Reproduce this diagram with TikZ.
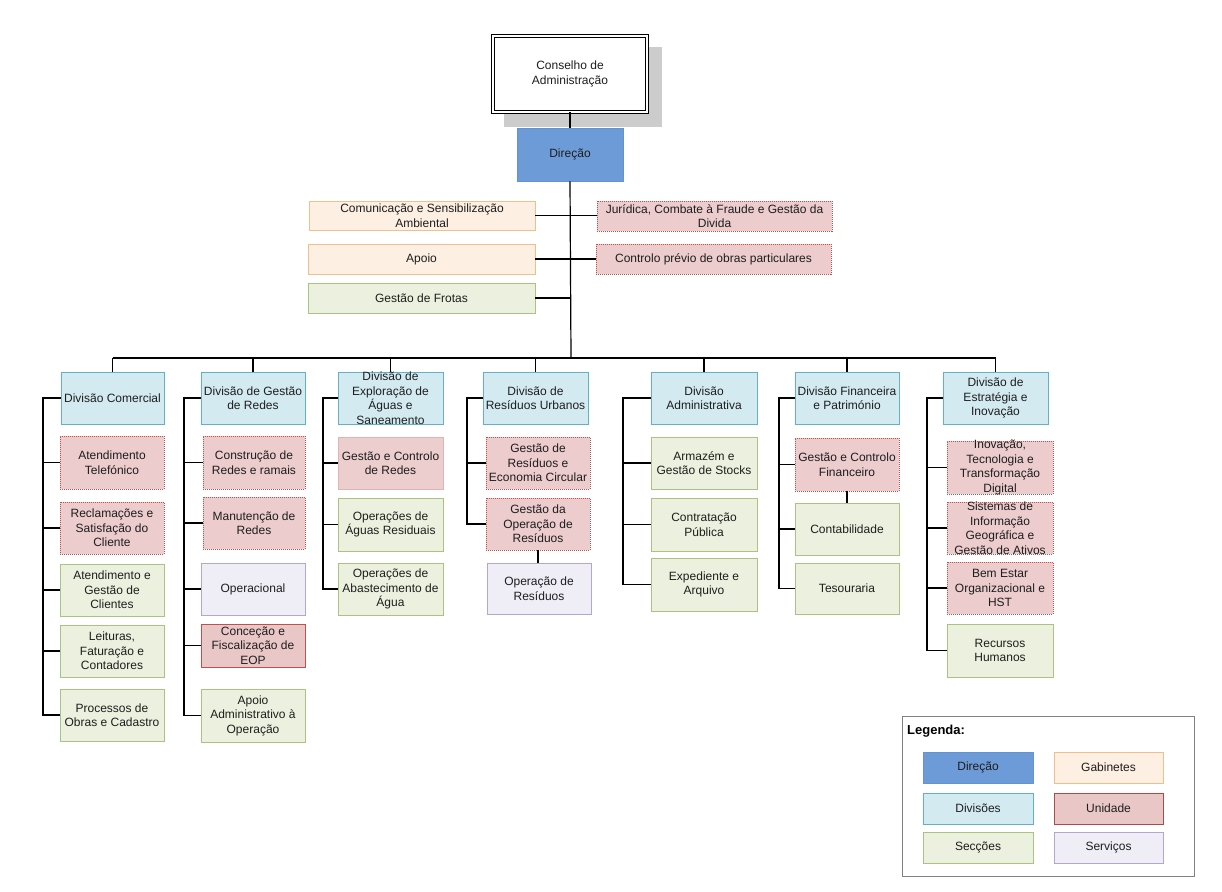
\documentclass[tikz,border=0pt]{standalone}
\usepackage{fontspec}
\setmainfont{Liberation Sans}
\usetikzlibrary{fit}
\definecolor{dirfill}{HTML}{6D9BD7}
\definecolor{dirdraw}{HTML}{6393D2}
\definecolor{divfill}{HTML}{D3EAF1}
\definecolor{divdraw}{HTML}{62B1C8}
\definecolor{gabfill}{HTML}{FDEFE1}
\definecolor{gabdraw}{HTML}{F0C08C}
\definecolor{unifill}{HTML}{ECCCCC}
\definecolor{unidraw}{HTML}{C0504D}
\definecolor{unifillb}{HTML}{EAC7C7}
\definecolor{unidrawb}{HTML}{C0504D}
\definecolor{unifillc}{HTML}{EDCECE}
\definecolor{unidrawc}{HTML}{E2B3B3}
\definecolor{unidrawleg}{HTML}{A94B4B}
\definecolor{secfill}{HTML}{EBF1DE}
\definecolor{secdraw}{HTML}{AAC480}
\definecolor{serfill}{HTML}{EFEEF6}
\definecolor{serdraw}{HTML}{B3A8C9}
\definecolor{shadowgray}{HTML}{CCCCCC}
\definecolor{leggray}{HTML}{808080}
\definecolor{txtcol}{HTML}{1E1E1E}
\tikzset{
  base/.style={rectangle, inner sep=0pt, line width=0.8pt},
  dirst/.style={base, fill=dirfill, draw=dirdraw},
  divst/.style={base, fill=divfill, draw=divdraw},
  gabst/.style={base, fill=gabfill, draw=gabdraw},
  unist/.style={base, fill=unifill, draw=unidraw, dash pattern=on 1pt off 1pt},
  unisolid/.style={base, fill=unifillb, draw=unidrawb},
  unilight/.style={base, fill=unifillc, draw=unidrawc},
  unileg/.style={base, fill=unifillb, draw=unidrawleg},
  secst/.style={base, fill=secfill, draw=secdraw},
  serst/.style={base, fill=serfill, draw=serdraw},
  txt/.style={align=center, font=\fontsize{12}{14.5}\selectfont, text=txtcol, inner sep=0pt},
  conn/.style={line width=1.2pt, black},
}
\newcommand\bx[7]{%
  \node[#1, fit={(#3,#4) (#5,#6)}] (#2) {};
  \node[txt] (#2t) at (#2.center) {#7};
}
\begin{document}
\begin{tikzpicture}[x=1pt, y=-1pt]
\useasboundingbox (0,0) rectangle (1222,891);
% shadow and board
\node[fill=shadowgray, inner sep=0pt, fit={(504,47) (662,127)}] (shadow) {};
\node[draw=black, fill=white, double, double distance=2.4pt, line width=0.9pt, inner sep=0pt, fit={(493.2,36.2) (646.8,111.8)}] (cons) {};
\node[txt] (const) at (cons.center) {Conselho de\\Administração};
% direction
\bx{dirst}{dir}{517}{128}{623}{181}{Direção}
% staff
\bx{gabst}{com}{309}{201}{535}{230}{Comunicação e Sensibilização\\Ambiental}
\bx{gabst}{apoio}{308}{244}{535}{274}{Apoio}
\bx{secst}{frotas}{308}{283}{535}{313}{Gestão de Frotas}
\bx{unist}{jur}{597}{201}{832}{231}{Jurídica, Combate à Fraude e Gestão da\\Divida}
\bx{unist}{ctrl}{596}{244}{831}{274}{Controlo prévio de obras particulares}
% divisions
\bx{divst}{d1}{61}{372}{164}{424}{Divisão Comercial}
\bx{divst}{d2}{201}{372}{305}{424}{Divisão de Gestão\\de Redes}
\bx{divst}{d3}{338}{372}{443}{424}{Divisão de\\Exploração de\\Águas e\\Saneamento}
\bx{divst}{d4}{483}{372}{588}{424}{Divisão de\\Resíduos Urbanos}
\bx{divst}{d5}{651}{372}{757}{424}{Divisão\\Administrativa}
\bx{divst}{d6}{795}{372}{899}{424}{Divisão Financeira\\e Património}
\bx{divst}{d7}{943}{372}{1048}{424}{Divisão de\\Estratégia e\\Inovação}
% column 1
\bx{unist}{c11}{60}{436}{164}{489}{Atendimento\\Telefónico}
\bx{unist}{c12}{60}{502}{164}{554}{Reclamações e\\Satisfação do\\Cliente}
\bx{secst}{c13}{60}{564}{164}{616}{Atendimento e\\Gestão de\\Clientes}
\bx{secst}{c14}{60}{625}{164}{677}{Leituras,\\Faturação e\\Contadores}
\bx{secst}{c15}{60}{689}{164}{741}{Processos de\\Obras e Cadastro}
% column 2
\bx{unist}{c21}{203}{436}{305}{489}{Construção de\\Redes e ramais}
\bx{unist}{c22}{203}{497}{305}{549}{Manutenção de\\Redes}
\bx{serst}{c23}{201}{563}{305}{615}{Operacional}
\bx{unisolid}{c24}{201}{624}{305}{667}{Conceção e\\Fiscalização de\\EOP}
\bx{secst}{c25}{201}{689}{305}{742}{Apoio\\Administrativo à\\Operação}
% column 3
\bx{unilight}{c31}{338}{437}{443}{489}{Gestão e Controlo\\de Redes}
\bx{secst}{c32}{338}{498}{443}{551}{Operações de\\Águas Residuais}
\bx{secst}{c33}{338}{563}{443}{615}{Operações de\\Abastecimento de\\Água}
% column 4
\bx{unist}{c41}{486}{437}{590}{489}{Gestão de\\Resíduos e\\Economia Circular}
\bx{unist}{c42}{486}{498}{590}{550}{Gestão da\\Operação de\\Resíduos}
\bx{serst}{c43}{487}{563}{591}{614}{Operação de\\Resíduos}
% column 5
\bx{secst}{c51}{651}{437}{757}{489}{Armazém e\\Gestão de Stocks}
\bx{secst}{c52}{651}{498}{757}{551}{Contratação\\Pública}
\bx{secst}{c53}{651}{558}{757}{611}{Expediente e\\Arquivo}
% column 6
\bx{unist}{c61}{795}{438}{899}{491}{Gestão e Controlo\\Financeiro}
\bx{secst}{c62}{795}{503}{899}{555}{Contabilidade}
\bx{secst}{c63}{795}{563}{899}{614}{Tesouraria}
% column 7
\bx{unist}{c71}{947}{441}{1053}{494}{Inovação,\\Tecnologia e\\Transformação\\Digital}
\bx{unist}{c72}{947}{502}{1053}{554}{Sistemas de\\Informação\\Geográfica e\\Gestão de Ativos}
\bx{unist}{c73}{947}{562}{1053}{614}{Bem Estar\\Organizacional e\\HST}
\bx{secst}{c74}{947}{624}{1053}{677}{Recursos\\Humanos}
% connectors top
\coordinate (bus) at (571,358);
\draw[conn] (cons.south) -- (dir.north);
\draw[conn] (dir.south) -- (bus);
\draw[conn] (com.east) -- (com.east -| jur.west);
\draw[conn] (apoio.east) -- (apoio.east -| ctrl.west);
\draw[conn] (frotas.east) -- (frotas.east -| bus);
\draw[conn] (d1.north |- bus) -- (d7.north |- bus);
\foreach \d in {d1,d2,d3,d4,d5,d6,d7} \draw[conn] (\d.north) -- (\d.north |- bus);
% trees
\coordinate (t1) at (43,398);
\coordinate (t2) at (184,398);
\coordinate (t3) at (323,398);
\coordinate (t4) at (467,398);
\coordinate (t5) at (623,398);
\coordinate (t6) at (779,398);
\coordinate (t7) at (927,398);
\draw[conn] (d1.west) -- (t1) |- (c15.west);
\foreach \n in {c11,c12,c13,c14} \draw[conn] (\n.west) -- (\n.west -| t1);
\draw[conn] (d2.west) -- (t2) |- (c25.west);
\foreach \n in {c21,c22,c23,c24} \draw[conn] (\n.west) -- (\n.west -| t2);
\draw[conn] (d3.west) -- (t3) |- (c33.west);
\foreach \n in {c31,c32} \draw[conn] (\n.west) -- (\n.west -| t3);
\draw[conn] (d4.west) -- (t4) |- (c42.west);
\draw[conn] (c41.west) -- (c41.west -| t4);
\draw[conn] (c42.south) -- (c42.south |- c43.north);
\draw[conn] (d5.west) -- (t5) |- (c53.west);
\foreach \n in {c51,c52} \draw[conn] (\n.west) -- (\n.west -| t5);
\draw[conn] (d6.west) -- (t6) |- (c63.west);
\foreach \n in {c61,c62} \draw[conn] (\n.west) -- (\n.west -| t6);
\draw[conn] (c61.south) -- (c61.south |- c62.north);
\draw[conn] (d7.west) -- (t7) |- (c74.west);
\foreach \n in {c71,c72,c73} \draw[conn] (\n.west) -- (\n.west -| t7);
% legend
\node[draw=leggray, line width=1pt, inner sep=0pt, fit={(902,716) (1194,876)}] (leg) {};
\node[anchor=west, inner sep=0pt, text=black, font=\bfseries\fontsize{13}{15}\selectfont] (legt) at (907,731) {Legenda:};
\bx{dirst}{l1}{923}{752}{1033}{783}{Direção}
\bx{gabst}{l2}{1054}{752}{1163}{783}{Gabinetes}
\bx{divst}{l3}{923}{793}{1033}{824}{Divisões}
\bx{unileg}{l4}{1054}{793}{1163}{824}{Unidade}
\bx{secst}{l5}{923}{832}{1033}{863}{Secções}
\bx{serst}{l6}{1054}{832}{1163}{863}{Serviços}
\end{tikzpicture}
\end{document}
